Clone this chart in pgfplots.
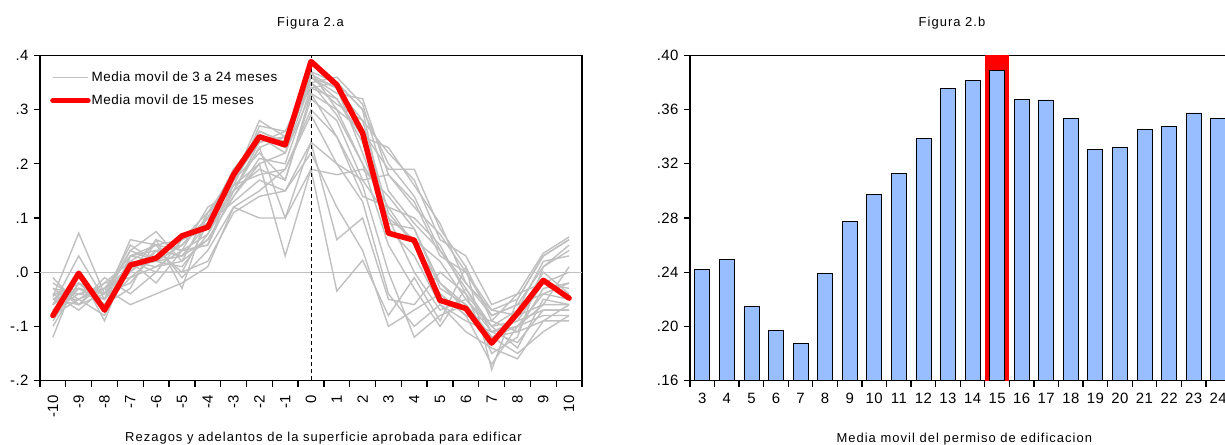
\documentclass[border=0pt]{standalone}
\usepackage{pgfplots}
\pgfplotsset{compat=1.18}
\usepackage{pgfplotstable}
\usepackage{fontspec}
\setmainfont{Liberation Sans}[LetterSpace=8]
\newfontfamily\tickfont{Liberation Sans}[LetterSpace=3]
\newfontfamily\legfont{Liberation Sans}[LetterSpace=4]
\definecolor{grayline}{RGB}{192,192,192}
\definecolor{barblue}{RGB}{153,190,255}

\pgfplotstableread{
lag s3 s4 s5 s6 s7 s8 s9 s10 s11 s12 s13 s14 s15 s16 s17 s18 s19 s20 s21 s22 s23 s24
-10 -0.045 -0.060 -0.120 -0.100 -0.050 -0.030 -0.040 -0.070 -0.090 -0.080 -0.060 -0.050 -0.080 -0.070 -0.060 -0.080 -0.040 -0.050 -0.030 -0.020 -0.010 -0.040
-9 0.072 0.030 0.000 -0.020 -0.050 -0.060 -0.040 -0.030 -0.020 -0.030 -0.010 -0.020 -0.002 -0.040 -0.030 -0.050 -0.030 -0.060 -0.040 -0.050 -0.060 -0.070
-8 -0.040 -0.050 -0.090 -0.060 -0.080 -0.020 -0.050 -0.040 -0.060 -0.050 -0.070 -0.040 -0.070 -0.030 -0.050 -0.030 -0.060 -0.040 -0.030 -0.020 -0.010 -0.030
-7 0.040 0.060 0.030 -0.030 0.020 -0.010 0.000 0.050 -0.010 0.020 0.030 0.010 0.013 0.030 0.040 0.000 0.020 -0.020 0.010 0.020 -0.040 -0.060
-6 0.075 0.050 0.040 0.060 -0.020 0.030 0.040 0.020 0.010 0.000 0.020 0.030 0.026 0.050 0.020 0.060 0.010 0.040 0.020 0.050 0.000 -0.040
-5 0.020 0.040 0.000 -0.030 0.040 0.060 0.050 0.030 0.040 0.060 0.050 0.070 0.067 0.060 0.050 0.040 0.020 0.030 0.010 -0.010 0.000 -0.020
-4 0.060 0.050 0.090 0.110 0.050 0.080 0.100 0.090 0.070 0.080 0.100 0.090 0.083 0.110 0.100 0.120 0.110 0.060 0.070 0.040 0.020 0.010
-3 0.140 0.150 0.130 0.160 0.170 0.190 0.160 0.150 0.160 0.170 0.180 0.170 0.180 0.180 0.190 0.150 0.160 0.140 0.150 0.120 0.110 0.120
-2 0.200 0.230 0.170 0.180 0.220 0.250 0.260 0.240 0.270 0.280 0.260 0.240 0.250 0.250 0.240 0.230 0.200 0.210 0.190 0.150 0.140 0.100
-1 0.030 0.100 0.150 0.190 0.170 0.220 0.240 0.250 0.260 0.250 0.240 0.250 0.235 0.230 0.260 0.250 0.220 0.200 0.170 0.190 0.150 0.100
0 0.190 0.240 0.220 0.290 0.330 0.350 0.360 0.370 0.360 0.370 0.365 0.350 0.389 0.360 0.340 0.350 0.330 0.340 0.320 0.300 0.240 0.190
1 -0.035 0.060 0.120 0.200 0.250 0.290 0.320 0.300 0.340 0.350 0.340 0.360 0.346 0.330 0.350 0.310 0.300 0.320 0.280 0.250 0.200 0.180
2 0.022 0.100 0.040 0.130 0.160 0.200 0.240 0.200 0.220 0.300 0.280 0.310 0.257 0.320 0.300 0.280 0.260 0.250 0.170 0.140 0.170 0.190
3 -0.080 -0.050 -0.100 -0.040 0.000 0.050 0.100 0.120 0.090 0.080 0.110 0.150 0.072 0.180 0.200 0.220 0.190 0.230 0.180 0.120 0.100 0.140
4 -0.010 -0.060 -0.070 -0.100 -0.120 -0.030 0.000 0.050 0.080 0.030 0.050 0.090 0.059 0.120 0.140 0.170 0.190 0.160 0.130 0.100 0.060 0.080
5 -0.090 0.000 -0.040 -0.060 -0.080 -0.100 -0.070 -0.040 -0.030 -0.060 -0.020 0.040 -0.052 0.070 0.040 0.060 0.080 0.090 0.030 0.050 0.020 -0.020
6 0.010 -0.040 -0.080 -0.110 -0.060 -0.030 -0.050 -0.080 -0.060 -0.090 -0.070 -0.030 -0.067 0.000 -0.020 0.030 0.010 -0.020 0.000 -0.040 -0.050 -0.060
7 -0.180 -0.150 -0.170 -0.140 -0.120 -0.110 -0.100 -0.090 -0.120 -0.110 -0.130 -0.100 -0.131 -0.080 -0.070 -0.060 -0.090 -0.080 -0.070 -0.100 -0.110 -0.120
8 -0.050 -0.120 -0.100 -0.160 -0.150 -0.130 -0.140 -0.110 -0.100 -0.090 -0.080 -0.070 -0.076 -0.060 -0.050 -0.040 -0.040 -0.060 -0.080 -0.090 -0.100 -0.110
9 0.030 0.010 -0.060 -0.090 -0.110 -0.070 -0.050 -0.030 -0.040 -0.020 0.000 0.020 -0.015 0.010 0.030 0.035 -0.020 -0.040 -0.060 -0.070 -0.080 -0.090
10 0.060 0.040 0.010 -0.060 -0.080 -0.070 -0.060 -0.020 -0.050 -0.030 -0.040 0.030 -0.048 0.050 0.060 0.065 0.000 -0.020 -0.060 -0.070 -0.080 -0.090
}\lagdata

\pgfplotstableread{
cat val
3 0.2420
4 0.2497
5 0.2150
6 0.1970
7 0.1876
8 0.2393
9 0.2773
10 0.2972
11 0.3128
12 0.3386
13 0.3756
14 0.3818
15 0.3892
16 0.3677
17 0.3672
18 0.3532
19 0.3305
20 0.3320
21 0.3453
22 0.3478
23 0.3576
24 0.3532
}\bardata

\begin{document}
\begin{tikzpicture}[font=\fontsize{12.5}{15}\selectfont]
\useasboundingbox (0,0) rectangle (1225bp,445bp);
\clip (0,0) rectangle (1225bp,445bp);

\begin{axis}[
  scale only axis, width=542bp, height=325bp,
  at={(40bp,64.5bp)}, anchor=south west,
  xmin=-10.5, xmax=10.5, ymin=-0.2, ymax=0.4,
  axis line style={black, line width=1.3bp},
  tick align=outside, tick pos=left,
  tick label style={font=\tickfont\fontsize{15}{17}\selectfont},
  xtick={-10,...,10},
  xticklabels={-10,-9,-8,-7,-6,-5,-4,-3,-2,-1,0,1,2,3,4,5,6,7,8,9,10},
  xticklabel style={rotate=90, anchor=east},
  xticklabel shift=5bp,
  yticklabel shift=2bp,
  minor xtick={-10.5,-9.5,...,10.5},
  major x tick style={draw=none},
  minor x tick style={black, line width=1.3bp},
  ytick={-0.2,-0.1,0,0.1,0.2,0.3,0.4},
  yticklabels={-.2,-.1,.0,.1,.2,.3,.4},
  major y tick style={black, line width=1.3bp},
  major tick length=6bp, minor tick length=6bp,
  legend style={draw=none, fill=none, at={(0,1)}, anchor=north west,
    xshift=10bp, yshift=-14bp, row sep=8bp, inner sep=0pt,
    font=\legfont\fontsize{13.5}{15}\selectfont,
    nodes={inner xsep=1bp}},
  legend cell align=left,
  legend image code/.code={\draw[#1] (0bp,0bp) -- (35bp,0bp);},
]
\addplot[grayline, line width=1.3bp, forget plot] coordinates {(-10.5,0) (10.5,0)};
\addplot[grayline, line width=1.4bp] table[x=lag, y=s3]{\lagdata};
\addlegendentry{Media movil de 3 a 24 meses}
\pgfplotsinvokeforeach{4,5,6,7,8,9,10,11,12,13,14,16,17,18,19,20,21,22,23,24}{
  \addplot[grayline, line width=1.4bp, forget plot] table[x=lag, y=s#1]{\lagdata};
}
\addplot[black, line width=0.8bp, dash pattern=on 4bp off 3bp, forget plot] coordinates {(0,-0.2) (0,0.4)};
\addplot[red, line width=5.5bp, line join=round, line cap=round] table[x=lag, y=s15]{\lagdata};
\addlegendentry{Media movil de 15 meses}
\end{axis}

\begin{axis}[
  scale only axis, width=540.5bp, height=325bp,
  at={(690bp,64.5bp)}, anchor=south west,
  xmin=2.5, xmax=24.5, ymin=0.16, ymax=0.40,
  axis line style={black, line width=1.3bp},
  tick align=outside, tick pos=left,
  tick label style={font=\tickfont\fontsize{15}{17}\selectfont},
  xtick={3,...,24},
  xticklabels={3,4,5,6,7,8,9,10,11,12,13,14,15,16,17,18,19,20,21,22,23,24},
  xticklabel shift=3bp,
  yticklabel shift=2bp,
  minor xtick={2.5,3.5,...,24.5},
  major x tick style={draw=none},
  minor x tick style={black, line width=1.3bp},
  ytick={0.16,0.20,0.24,0.28,0.32,0.36,0.40},
  yticklabels={.16,.20,.24,.28,.32,.36,.40},
  major y tick style={black, line width=1.3bp},
  major tick length=6bp, minor tick length=6bp,
]
\addplot[ybar, bar width=24.57bp, bar shift=0pt, fill=red, draw=none] coordinates {(15,0.40)};
\addplot[ybar, bar width=15bp, bar shift=0pt, fill=barblue, draw=black, line width=0.8bp] table[x=cat, y=val]{\bardata};
\end{axis}

\node[anchor=base] at (310.5bp,418bp) {\fontsize{13}{15}\selectfont Figura 2.a};
\node[anchor=base] at (952bp,418bp) {\fontsize{13}{15}\selectfont Figura 2.b};
\node[anchor=base] at (323.5bp,3.3bp) {\fontsize{13}{15}\selectfont Rezagos y adelantos de la superficie aprobada para edificar};
\node[anchor=base west] at (833bp,2.3bp) {\fontsize{13}{15}\selectfont Media movil del permiso de edificacion};
\end{tikzpicture}
\end{document}
